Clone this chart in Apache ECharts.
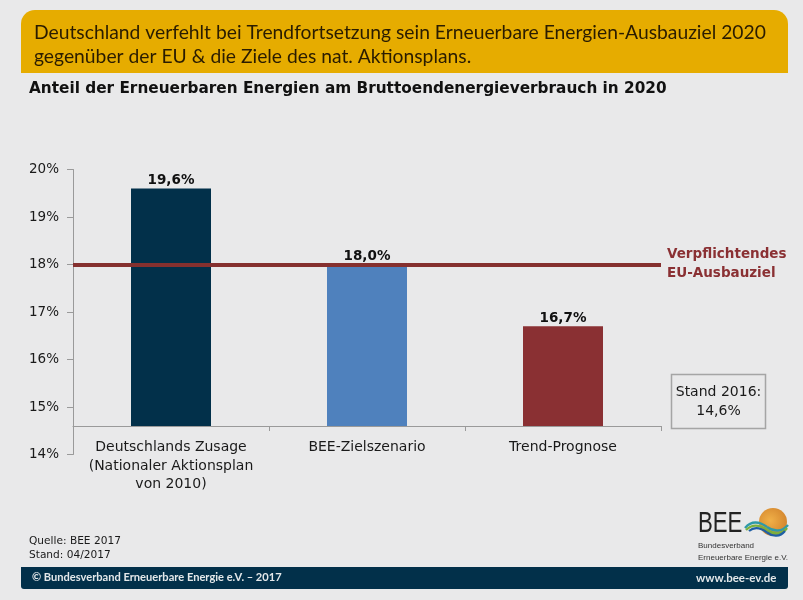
<!DOCTYPE html>
<html>
<head>
<meta charset="utf-8">
<style>
  html, body { margin: 0; padding: 0; background: #e9e9ea; }
  #main { width: 803px; height: 600px; }
</style>
<script src="https://cdn.jsdelivr.net/npm/echarts@6/dist/echarts.min.js"></script>
</head>
<body>
<div id="main"></div>
<script>
var categories = ["Deutschlands Zusage\n(Nationaler Aktionsplan\nvon 2010)", "BEE-Zielszenario", "Trend-Prognose"];
var values = [19.6, 18.0, 16.7];
var barColors = ["#02304a", "#4f81bd", "#8a3033"];
var yMin = 14;
var yMax = 20;
var baseline = 14.6; // Stand 2016, the bars start here
var euTarget = 18;

var labelFont = "'DejaVu Sans'";
var headFont = "Lato";

function comma(v) {
  return v.toFixed(1).replace(".", ",") + "%";
}

function wave(x1, y1, c1x, c1y, c2x, c2y, x2, y2, color, w) {
  return {
    type: "bezierCurve",
    z: 3,
    shape: { x1: x1, y1: y1, cpx1: c1x, cpy1: c1y, cpx2: c2x, cpy2: c2y, x2: x2, y2: y2 },
    style: { fill: "none", stroke: color, lineWidth: w }
  };
}

var myChart = echarts.init(document.getElementById("main"));
myChart.setOption({
  backgroundColor: "#e9e9ea",
  animation: false,
  grid: [
    // outer grid only carries the 14-20 scale
    { left: 73, top: 169.5, width: 588, height: 285 },
    // same px per percent, but it ends at 14,6
    { left: 73, top: 169.5, width: 588, height: 256.5 }
  ],
  xAxis: [
    { gridIndex: 0, type: "category", data: categories, show: false },
    {
      gridIndex: 1,
      type: "category",
      data: categories,
      axisLine: { lineStyle: { color: "#9a9a9a", width: 1 } },
      axisTick: { show: true, length: 5, alignWithLabel: false, lineStyle: { color: "#9a9a9a" } },
      axisLabel: { color: "#1a1a1a", fontFamily: labelFont, fontSize: 14, lineHeight: 18.7, margin: 12, interval: 0 }
    }
  ],
  yAxis: [
    {
      gridIndex: 0,
      type: "value",
      min: yMin,
      max: yMax,
      interval: 1,
      splitLine: { show: false },
      axisLine: { show: true, lineStyle: { color: "#9a9a9a", width: 1 } },
      axisTick: { show: true, length: 6, lineStyle: { color: "#9a9a9a" } },
      axisLabel: { color: "#1a1a1a", fontFamily: labelFont, fontSize: 13.5, margin: 14, padding: [3, 0, 0, 0], formatter: "{value}%" }
    },
    { gridIndex: 1, type: "value", min: baseline, max: yMax, show: false, splitLine: { show: false } }
  ],
  series: [
    {
      type: "bar",
      xAxisIndex: 1,
      yAxisIndex: 1,
      barWidth: 80,
      data: values.map(function (v, i) {
        return { value: v, itemStyle: { color: barColors[i] } };
      }),
      label: {
        show: true,
        position: "top",
        distance: 1,
        color: "#111",
        fontFamily: labelFont,
        fontWeight: "bold",
        fontSize: 13.5,
        formatter: function (p) { return comma(p.value); }
      },
      markLine: {
        silent: true,
        symbol: "none",
        lineStyle: { color: "#85302f", width: 4, type: "solid" },
        label: {
          show: true,
          position: "end",
          distance: 6,
          align: "left",
          offset: [0, -1],
          color: "#8a3033",
          fontFamily: labelFont,
          fontWeight: "bold",
          fontSize: 13.5,
          lineHeight: 19,
          formatter: "Verpflichtendes\nEU-Ausbauziel"
        },
        data: [{ yAxis: euTarget }]
      }
    }
  ],
  graphic: [
    { type: "rect", z: 1, shape: { x: 21, y: 10, width: 767, height: 63, r: [14, 14, 0, 0] }, style: { fill: "#e6ac00" } },
    { type: "text", z: 2, x: 34, y: 23, style: { text: "Deutschland verfehlt bei Trendfortsetzung sein Erneuerbare Energien-Ausbauziel 2020", font: "19.3px " + headFont, fill: "#2a1c00" } },
    { type: "text", z: 2, x: 34, y: 47, style: { text: "gegenüber der EU & die Ziele des nat. Aktionsplans.", font: "19.3px " + headFont, fill: "#2a1c00" } },
    { type: "text", z: 2, x: 29, y: 82, style: { text: "Anteil der Erneuerbaren Energien am Bruttoendenergieverbrauch in 2020", font: "bold 15.3px " + labelFont, fill: "#111" } },
    { type: "rect", z: 1, shape: { x: 671.5, y: 374.5, width: 94, height: 54 }, style: { fill: "none", stroke: "#a5a5a5", lineWidth: 1.5 } },
    { type: "text", z: 2, x: 718.5, y: 383, style: { text: "Stand 2016:\n14,6%", font: "14px " + labelFont, fill: "#1a1a1a", align: "center", lineHeight: 19 } },
    { type: "text", z: 2, x: 29, y: 534, style: { text: "Quelle: BEE 2017\nStand: 04/2017", font: "10.6px " + labelFont, fill: "#1a1a1a", lineHeight: 14 } },
    { type: "rect", z: 1, shape: { x: 21, y: 567, width: 767, height: 22, r: [0, 0, 3, 3] }, style: { fill: "#02304a" } },
    { type: "text", z: 2, x: 32, y: 572, style: { text: "© Bundesverband Erneuerbare Energie e.V. – 2017", font: "bold 11.1px " + headFont, fill: "#e4e8ea" } },
    { type: "text", z: 2, x: 696, y: 572, style: { text: "www.bee-ev.de", font: "bold 11.5px " + headFont, fill: "#e4e8ea" } },
    // logo
    { type: "text", z: 2, x: 698, y: 509, scaleX: 0.74, style: { text: "BEE", font: "30px 'Liberation Sans'", fill: "#222" } },
    { type: "circle", z: 2, shape: { cx: 773, cy: 522, r: 14 }, style: { fill: new echarts.graphic.RadialGradient(0.4, 0.45, 0.7, [{ offset: 0, color: "#f0b048" }, { offset: 1, color: "#d0802a" }]) } },
    wave(745, 528, 752, 520, 760, 522, 767, 527, "#2f9aa8", 2.4),
    wave(767, 527, 774, 532, 782, 532, 788, 525, "#2f9aa8", 2.4),
    wave(746, 530, 753, 523, 760, 525, 767, 530, "#7ab03c", 2.4),
    wave(767, 530, 774, 535, 782, 535, 787, 528, "#7ab03c", 2.4),
    wave(749, 531, 755, 526, 761, 528, 767, 532.5, "#1f5fa5", 2.2),
    wave(767, 532.5, 773, 537, 780, 537, 785, 531, "#1f5fa5", 2.2),
    { type: "text", z: 2, x: 698, y: 540, style: { text: "Bundesverband\nErneuerbare Energie e.V.", font: "8px 'Liberation Sans'", fill: "#333", lineHeight: 12 } }
  ]
});
</script>
</body>
</html>
